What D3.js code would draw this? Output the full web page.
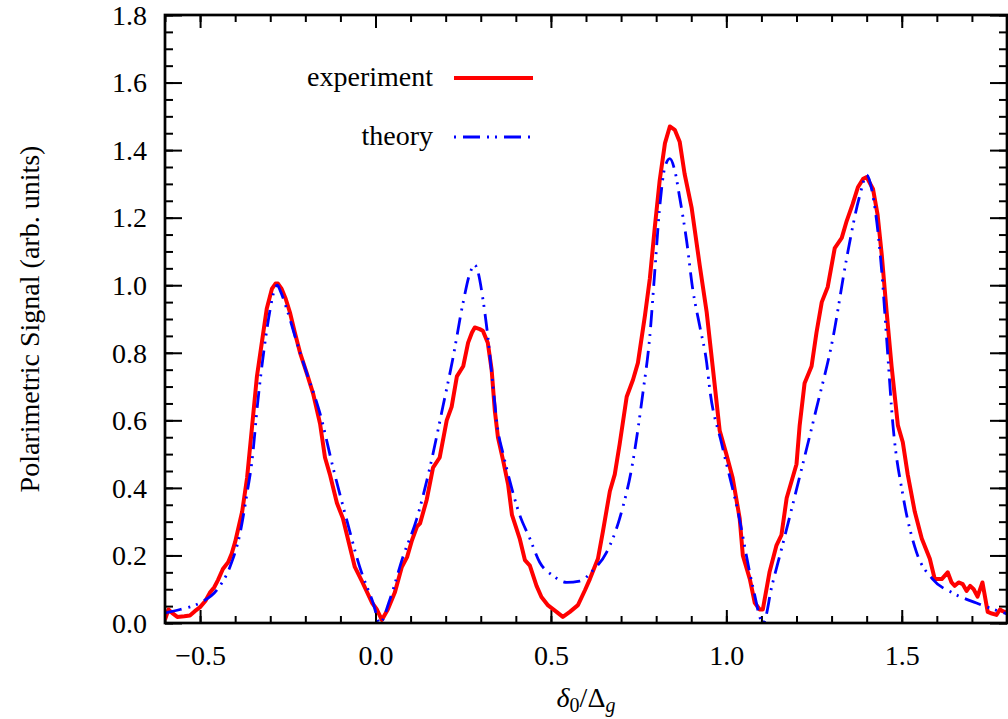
<!DOCTYPE html>
<html>
<head>
<meta charset="utf-8">
<script src="https://cdn.jsdelivr.net/npm/d3@7.9.0/dist/d3.min.js"></script>
<style>
  html, body { margin: 0; padding: 0; background: #fff; }
</style>
</head>
<body>
<svg id="chart" width="1008" height="719"></svg>
<script>
// experiment trace (red)
const expX = [-0.600, -0.590, -0.580, -0.565, -0.545, -0.529, -0.515, -0.500, -0.485, -0.472, -0.460, -0.449, -0.435, -0.420, -0.410, -0.400,
  -0.380, -0.366, -0.352, -0.338, -0.324, -0.310, -0.295, -0.285, -0.278, -0.268, -0.256, -0.244, -0.230, -0.215, -0.196, -0.178,
  -0.158, -0.144, -0.130, -0.110, -0.093, -0.073, -0.059, -0.036, -0.010, 0.004, 0.018, 0.035, 0.055, 0.075, 0.090, 0.104,
  0.118, 0.127, 0.146, 0.164, 0.183, 0.203, 0.217, 0.232, 0.250, 0.264, 0.275, 0.283, 0.297, 0.306, 0.320, 0.331,
  0.340, 0.349, 0.364, 0.378, 0.389, 0.411, 0.426, 0.440, 0.459, 0.473, 0.492, 0.516, 0.534, 0.554, 0.577, 0.597,
  0.611, 0.634, 0.648, 0.668, 0.682, 0.696, 0.716, 0.734, 0.748, 0.768, 0.782, 0.796, 0.810, 0.825, 0.839, 0.853,
  0.867, 0.881, 0.901, 0.924, 0.944, 0.961, 0.981, 1.000, 1.018, 1.038, 1.047, 1.067, 1.081, 1.095, 1.104, 1.123,
  1.143, 1.157, 1.172, 1.200, 1.209, 1.223, 1.243, 1.257, 1.272, 1.289, 1.309, 1.329, 1.343, 1.360, 1.375, 1.390,
  1.400, 1.418, 1.431, 1.443, 1.457, 1.471, 1.489, 1.503, 1.517, 1.537, 1.557, 1.580, 1.594, 1.614, 1.631, 1.642,
  1.651, 1.662, 1.674, 1.685, 1.695, 1.705, 1.716, 1.730, 1.745, 1.757, 1.770, 1.780, 1.788, 1.800];
const expY = [0.010, 0.040, 0.030, 0.018, 0.020, 0.022, 0.035, 0.047, 0.065, 0.090, 0.105, 0.127, 0.160, 0.180, 0.205, 0.240,
  0.330, 0.430, 0.580, 0.730, 0.830, 0.930, 0.990, 1.005, 1.005, 0.990, 0.960, 0.920, 0.860, 0.800, 0.740, 0.680,
  0.590, 0.490, 0.440, 0.355, 0.310, 0.225, 0.166, 0.118, 0.060, 0.040, 0.009, 0.040, 0.090, 0.166, 0.195, 0.245,
  0.285, 0.295, 0.365, 0.460, 0.490, 0.600, 0.640, 0.730, 0.760, 0.830, 0.860, 0.875, 0.870, 0.865, 0.830, 0.750,
  0.630, 0.550, 0.480, 0.410, 0.320, 0.250, 0.186, 0.170, 0.110, 0.077, 0.052, 0.033, 0.018, 0.033, 0.053, 0.097,
  0.130, 0.190, 0.270, 0.390, 0.440, 0.530, 0.670, 0.720, 0.770, 0.910, 1.020, 1.170, 1.310, 1.420, 1.470, 1.460,
  1.425, 1.330, 1.230, 1.060, 0.920, 0.760, 0.570, 0.500, 0.430, 0.310, 0.200, 0.130, 0.060, 0.040, 0.040, 0.150,
  0.230, 0.260, 0.370, 0.470, 0.585, 0.710, 0.760, 0.860, 0.950, 0.995, 1.110, 1.140, 1.190, 1.240, 1.290, 1.315,
  1.320, 1.285, 1.210, 1.090, 0.920, 0.760, 0.585, 0.535, 0.440, 0.330, 0.250, 0.190, 0.130, 0.130, 0.150, 0.120,
  0.110, 0.120, 0.115, 0.095, 0.110, 0.100, 0.078, 0.120, 0.033, 0.028, 0.024, 0.040, 0.035, 0.030];

// theory curve (blue dash-dot-dot)
const theoryX = [-0.600, -0.557, -0.500, -0.452, -0.415, -0.386, -0.366, -0.352, -0.335, -0.315, -0.300, -0.287, -0.280, -0.272, -0.253, -0.224,
  -0.196, -0.158, -0.121, -0.082, -0.045, -0.007, 0.0125, 0.041, 0.078, 0.118, 0.155, 0.192, 0.220, 0.250, 0.269, 0.283,
  0.292, 0.306, 0.320, 0.335, 0.349, 0.364, 0.383, 0.411, 0.440, 0.468, 0.506, 0.545, 0.582, 0.619, 0.659, 0.696,
  0.734, 0.762, 0.782, 0.796, 0.810, 0.825, 0.839, 0.853, 0.867, 0.887, 0.904, 0.924, 0.944, 0.953, 0.986, 1.033,
  1.075, 1.105, 1.130, 1.160, 1.209, 1.257, 1.303, 1.343, 1.380, 1.400, 1.417, 1.443, 1.457, 1.475, 1.503, 1.542,
  1.588, 1.645, 1.713, 1.800];
const theoryY = [0.030, 0.040, 0.060, 0.098, 0.166, 0.266, 0.385, 0.480, 0.660, 0.830, 0.930, 0.990, 1.000, 0.985, 0.930, 0.830,
  0.740, 0.620, 0.460, 0.305, 0.166, 0.060, 0.000, 0.070, 0.195, 0.310, 0.460, 0.640, 0.780, 0.950, 1.035, 1.060,
  1.040, 0.960, 0.850, 0.700, 0.570, 0.500, 0.420, 0.320, 0.250, 0.180, 0.140, 0.120, 0.124, 0.155, 0.210, 0.310,
  0.480, 0.680, 0.850, 1.040, 1.230, 1.350, 1.375, 1.340, 1.260, 1.130, 0.990, 0.880, 0.770, 0.690, 0.534, 0.330,
  0.110, 0.000, 0.110, 0.230, 0.433, 0.636, 0.839, 1.080, 1.264, 1.326, 1.270, 1.040, 0.840, 0.585, 0.380, 0.210,
  0.130, 0.089, 0.059, 0.027];

const xMajor = [-0.5, 0.0, 0.5, 1.0, 1.5];
const xLabels = ['\u22120.5', '0.0', '0.5', '1.0', '1.5'];
const yMajor = [0.0, 0.2, 0.4, 0.6, 0.8, 1.0, 1.2, 1.4, 1.6, 1.8];
const yLabels = ['0.0', '0.2', '0.4', '0.6', '0.8', '1.0', '1.2', '1.4', '1.6', '1.8'];
const seriesNames = ['experiment', 'theory'];

const plotLeft = 165, plotRight = 1007, plotTop = 15, plotBottom = 623;
const fontSize = 28;
const serif = 'Liberation Serif, Times New Roman, Times, DejaVu Serif, Noto Serif, serif';

const svg = d3.select('#chart');
const x = d3.scaleLinear().domain([-0.6, 1.8]).range([plotLeft, plotRight]);
const y = d3.scaleLinear().domain([0, 1.8]).range([plotBottom, plotTop]);

svg.append('clipPath').attr('id', 'plot-clip')
    .append('rect')
    .attr('x', plotLeft).attr('y', plotTop)
    .attr('width', plotRight - plotLeft).attr('height', plotBottom - plotTop);

// ticks: minor + major, mirrored on all four sides, pointing inwards
function drawAxis(axis, transform, withLabels) {
    const g = svg.append('g').attr('transform', transform).call(axis);
    g.select('.domain').remove();
    g.selectAll('line').attr('stroke', '#000').attr('stroke-width', 2);
    if (!withLabels) g.selectAll('text').remove();
    else g.attr('font-family', serif).attr('font-size', fontSize)
        .selectAll('text').attr('fill', '#000');
    return g;
}

const xMinorTicks = x.ticks(24);
const yMinorTicks = y.ticks(36);

drawAxis(d3.axisBottom(x).tickValues(xMinorTicks).tickSize(-7), `translate(0,${plotBottom})`, false);
drawAxis(d3.axisTop(x).tickValues(xMinorTicks).tickSize(-7), `translate(0,${plotTop})`, false);
drawAxis(d3.axisLeft(y).tickValues(yMinorTicks).tickSize(-8), `translate(${plotLeft},0)`, false);
drawAxis(d3.axisRight(y).tickValues(yMinorTicks).tickSize(-8), `translate(${plotRight},0)`, false);

const xb = drawAxis(d3.axisBottom(x).tickValues(xMajor).tickSize(-13).tickPadding(22)
    .tickFormat((d, i) => xLabels[i]), `translate(0,${plotBottom})`, true);
xb.selectAll('text').attr('dy', '0.71em');
drawAxis(d3.axisTop(x).tickValues(xMajor).tickSize(-13), `translate(0,${plotTop})`, false);
const yl = drawAxis(d3.axisLeft(y).tickValues(yMajor).tickSize(-17).tickPadding(18)
    .tickFormat((d, i) => yLabels[i]), `translate(${plotLeft},0)`, true);
yl.selectAll('text').attr('dy', '0.33em');
drawAxis(d3.axisRight(y).tickValues(yMajor).tickSize(-17), `translate(${plotRight},0)`, false);

// curves
const expData = expX.map((d, i) => [d, expY[i]]);
const theoryData = theoryX.map((d, i) => [d, theoryY[i]]);

const lineGen = d3.line().x(d => x(d[0])).y(d => y(d[1]));
const smoothLine = d3.line().x(d => x(d[0])).y(d => y(d[1])).curve(d3.curveMonotoneX);

const dashPattern = '17,7,2,6,2,7';

const plot = svg.append('g').attr('clip-path', 'url(#plot-clip)');
plot.append('path')
    .datum(expData)
    .attr('d', lineGen)
    .attr('fill', 'none')
    .attr('stroke', '#ff0000')
    .attr('stroke-width', 4)
    .attr('stroke-linejoin', 'round');
plot.append('path')
    .datum(theoryData)
    .attr('d', smoothLine)
    .attr('fill', 'none')
    .attr('stroke', '#0000ff')
    .attr('stroke-width', 2.8)
    .attr('stroke-dasharray', dashPattern);

// frame
svg.append('rect')
    .attr('x', plotLeft).attr('y', plotTop)
    .attr('width', plotRight - plotLeft).attr('height', plotBottom - plotTop)
    .attr('fill', 'none')
    .attr('stroke', '#000')
    .attr('stroke-width', 2.7);

// legend
const legendRows = [{ y: 78, color: '#ff0000', width: 4, dash: null },
                    { y: 137, color: '#0000ff', width: 2.8, dash: dashPattern }];
legendRows.forEach((row, i) => {
    svg.append('text')
        .attr('x', 433).attr('y', row.y + 8)
        .attr('text-anchor', 'end')
        .attr('font-family', serif)
        .attr('font-size', fontSize)
        .text(seriesNames[i]);
    svg.append('line')
        .attr('x1', 454).attr('x2', 533)
        .attr('y1', row.y).attr('y2', row.y)
        .attr('stroke', row.color)
        .attr('stroke-width', row.width)
        .attr('stroke-dasharray', row.dash)
        .attr('stroke-dashoffset', row.dash ? 32 : null);
});

// axis titles
const xTitle = svg.append('text')
    .attr('x', (plotLeft + plotRight) / 2).attr('y', 707)
    .attr('text-anchor', 'middle')
    .attr('font-family', serif)
    .attr('font-size', fontSize);
xTitle.append('tspan').attr('font-style', 'italic').text('\u03b4');
xTitle.append('tspan').attr('font-size', 20).attr('dy', 5).text('0');
xTitle.append('tspan').attr('dy', -5).text('/\u0394');
xTitle.append('tspan').attr('font-size', 20).attr('font-style', 'italic').attr('dy', 5).text('g');

svg.append('text')
    .attr('transform', `translate(39,${(plotTop + plotBottom) / 2}) rotate(-90)`)
    .attr('text-anchor', 'middle')
    .attr('font-family', serif)
    .attr('font-size', fontSize)
    .text('Polarimetric Signal (arb. units)');
</script>
</body>
</html>
